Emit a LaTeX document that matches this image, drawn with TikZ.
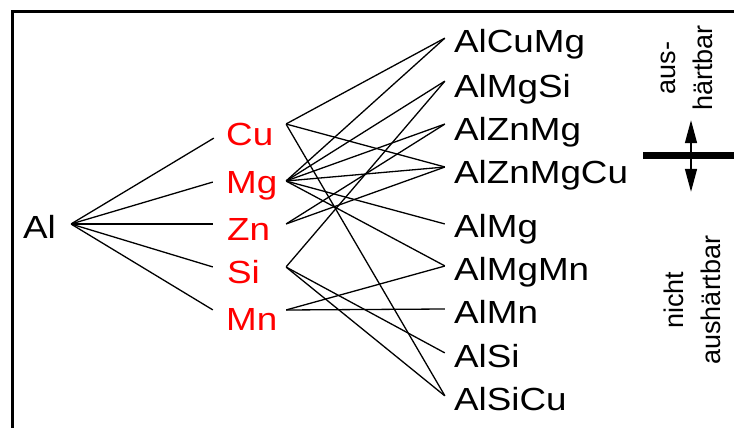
\documentclass[tikz,border=0pt]{standalone}
\usepackage{fontspec}
\setmainfont[FakeStretch=1.15]{Liberation Sans}
\newfontfamily\sidefont{Liberation Sans}
\usetikzlibrary{arrows.meta}

\begin{document}
\begin{tikzpicture}[x=1pt,y=-1pt,
  dot/.style={inner sep=0pt,minimum size=0pt},
  link/.style={line width=1.3pt},
  elem/.style={anchor=base west,inner sep=0pt,text=red,font=\fontsize{32}{38}\selectfont},
  alloy/.style={anchor=base west,inner sep=0pt,font=\fontsize{32}{38}\selectfont},
  side/.style={rotate=90,align=center,inner sep=0pt,font=\sidefont\fontsize{27}{37}\selectfont}]

  \useasboundingbox (0,0) rectangle (734,428);
  \draw[line width=3pt] (12,428) -- (12,12) -- (734,12);

  % base metal
  \node (al) at (23,238) [alloy] {Al};
  \node (al-r) at (71,224) [dot] {};

  % alloying elements
  \node (cu) at (226,145) [elem] {Cu};
  \node (mg) at (226,193) [elem] {Mg};
  \node (zn) at (227,240) [elem] {Zn};
  \node (si) at (227,283) [elem] {Si};
  \node (mn) at (226,330) [elem] {Mn};

  \node (cu-l) at (214,138) [dot] {};
  \node (mg-l) at (213,182) [dot] {};
  \node (zn-l) at (213,224) [dot] {};
  \node (si-l) at (213,267) [dot] {};
  \node (mn-l) at (213,310) [dot] {};

  \node (cu-r) at (286,124) [dot] {};
  \node (mg-r) at (286,181) [dot] {};
  \node (zn-r) at (286,224) [dot] {};
  \node (si-r) at (286,267) [dot] {};
  \node (mn-r) at (286,310) [dot] {};

  % alloys
  \node (alcumg) at (454,53) [alloy] {AlCuMg};
  \node (almgsi) at (454,97) [alloy] {AlMgSi};
  \node (alznmg) at (454,140) [alloy] {AlZnMg};
  \node (alznmgcu) at (454,183) [alloy] {AlZnMgCu};
  \node (almg) at (454,237) [alloy] {AlMg};
  \node (almgmn) at (454,280) [alloy] {AlMgMn};
  \node (almn) at (454,323) [alloy] {AlMn};
  \node (alsi) at (454,367) [alloy] {AlSi};
  \node (alsicu) at (454,410) [alloy] {AlSiCu};

  \node (alcumg-l) at (445,38) [dot] {};
  \node (almgsi-l) at (445,81) [dot] {};
  \node (alznmg-l) at (445,124) [dot] {};
  \node (alznmgcu-l) at (445,167) [dot] {};
  \node (almg-l) at (445,224) [dot] {};
  \node (almgmn-l) at (445,266) [dot] {};
  \node (almn-l) at (445,309) [dot] {};
  \node (alsi-l) at (445,353) [dot] {};
  \node (alsicu-l) at (445,396) [dot] {};

  \foreach \e in {cu,mg,zn,si,mn}
    \draw[link] (al-r) -- (\e-l);

  \foreach \e/\a in {cu/alcumg,cu/alznmgcu,cu/alsicu,
                     mg/alcumg,mg/almgsi,mg/alznmg,mg/alznmgcu,mg/almg,mg/almgmn,
                     zn/alznmg,zn/alznmgcu,
                     si/almgsi,si/alsi,si/alsicu,
                     mn/almgmn,mn/almn}
    \draw[link] (\e-r) -- (\a-l);

  % hardenable or not
  \node (limit-l) at (643,155) [dot] {};
  \node (limit-r) at (734,155) [dot] {};
  \draw[line width=7pt] (limit-l) -- (limit-r);
  \node (up) at (691,120) [dot] {};
  \node (down) at (691,192) [dot] {};
  \draw[line width=1.5pt,{Triangle[length=23pt,width=12pt]}-{Triangle[length=23pt,width=12pt]}] (up) -- (down);

  \node (aus) at (687,68) [side] {aus-\\härtbar};
  \node (nicht) at (692,300) [side] {nicht\\aushärtbar};

\end{tikzpicture}
\end{document}
